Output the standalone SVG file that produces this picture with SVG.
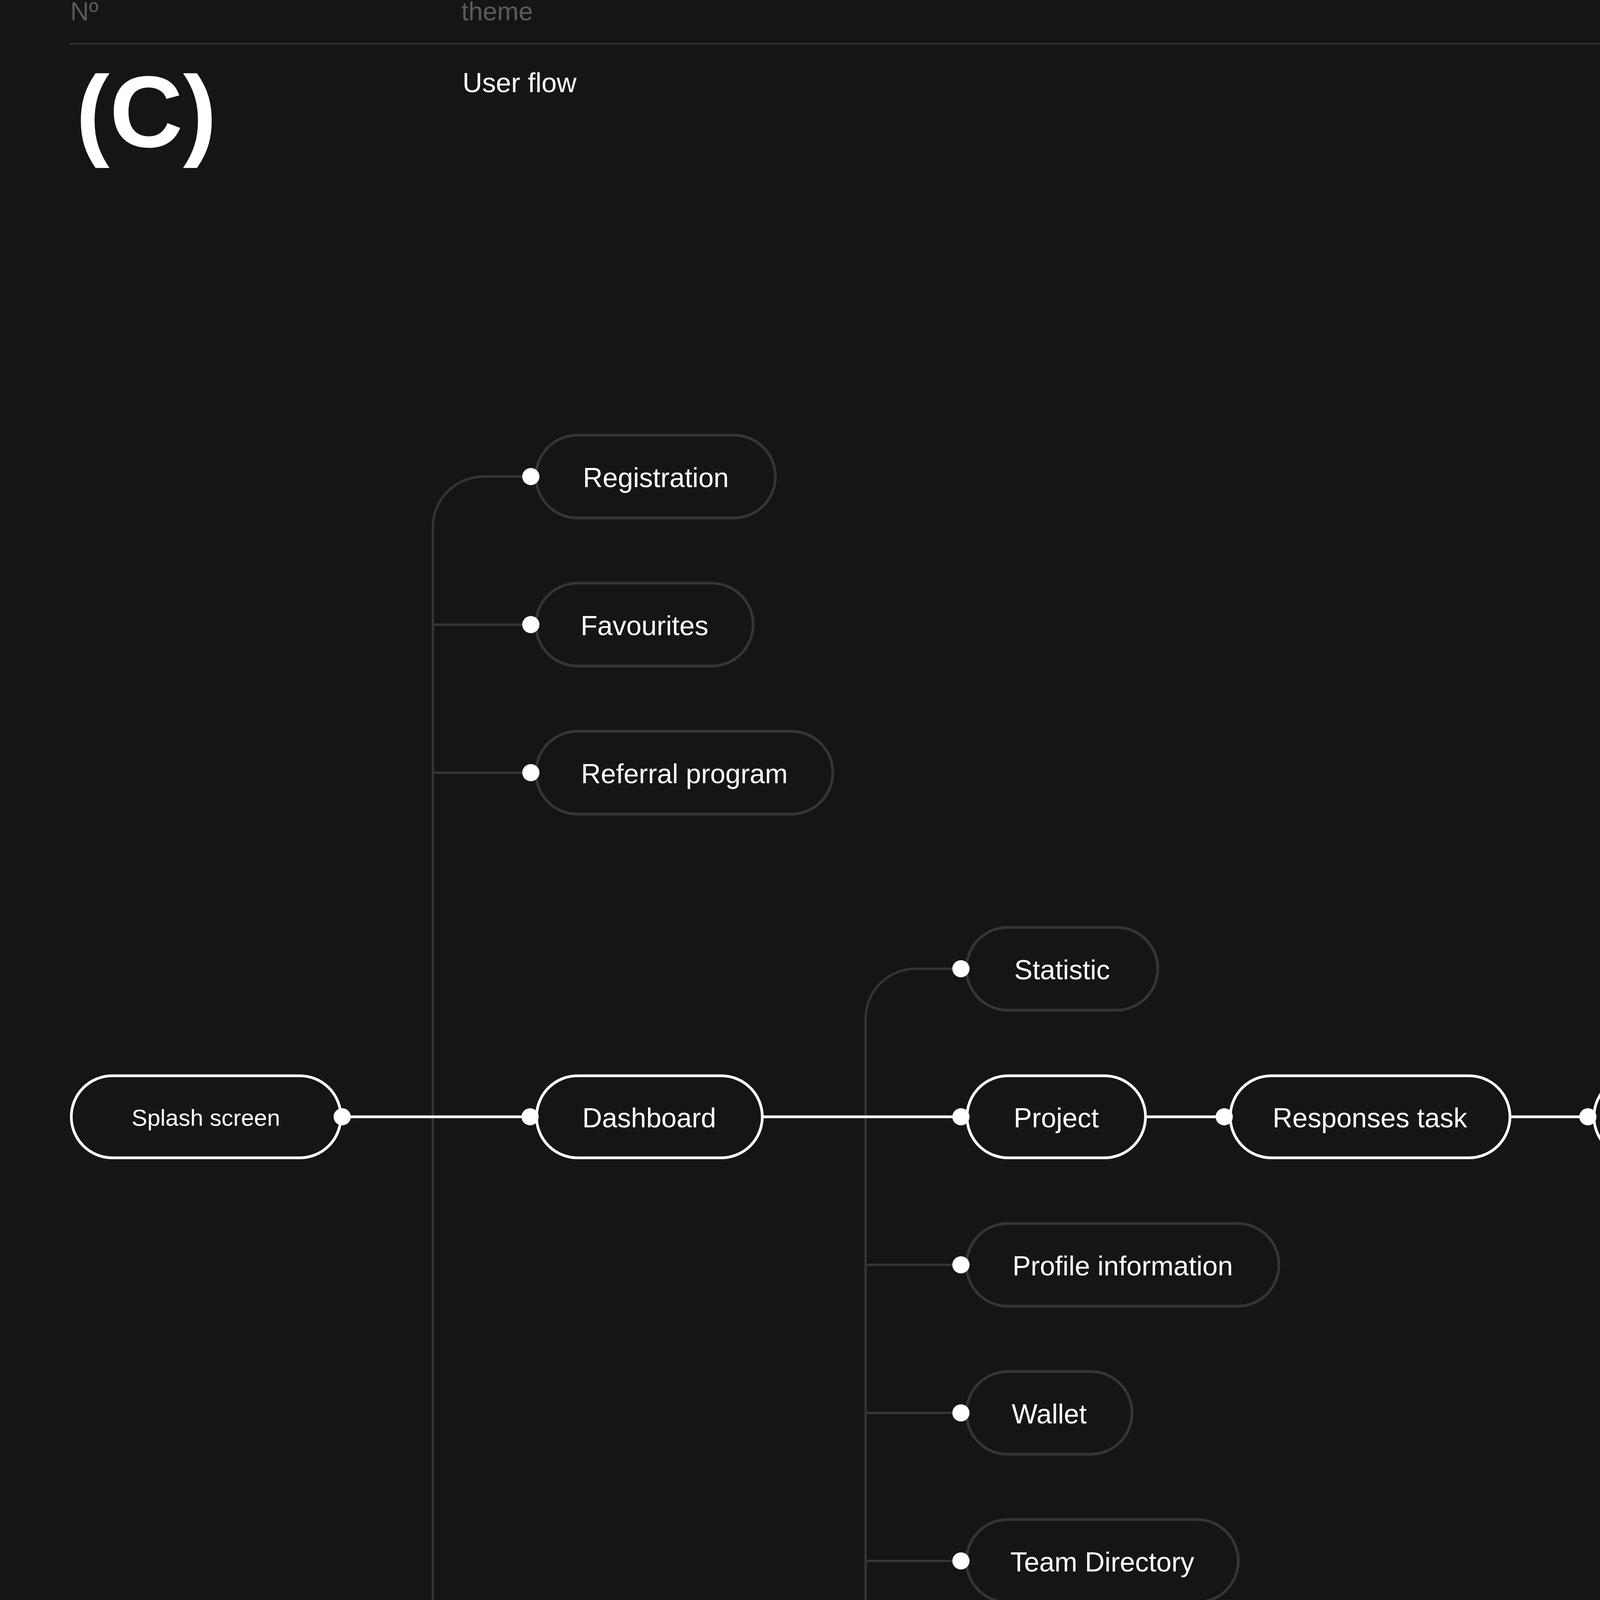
<svg xmlns="http://www.w3.org/2000/svg" width="6400" height="6858" viewBox="0 0 6400 6858">
<style>
.bg{fill:#151515}
.hdr{font-family:"Liberation Sans",Arial,sans-serif;font-size:66px;fill:#5a5a5a}
.body{font-family:"Liberation Sans",Arial,sans-serif;font-size:70px;fill:#ffffff}
.pillG{fill:#151515;stroke:#353535;stroke-width:7}
.pillD{fill:#151515;stroke:#242424;stroke-width:7}
.pillW{fill:#151515;stroke:#ffffff;stroke-width:7}
.lbl{font-family:"Liberation Sans",Arial,sans-serif;font-size:70px;fill:#ffffff;text-anchor:middle}
.lblS{font-family:"Liberation Sans",Arial,sans-serif;font-size:60px;fill:#ffffff;text-anchor:middle}
.cG{fill:none;stroke:#353535;stroke-width:6}
.cW{fill:none;stroke:#ffffff;stroke-width:7}
.dot{fill:#ffffff}
</style>
<rect class="bg" x="0" y="0" width="6400" height="6858"/>
<g id="header">
<text class="hdr" x="180" y="52">Nº</text>
<text class="hdr" x="1181" y="52">theme</text>
<text class="hdr" x="4786" y="52">about</text>
<line x1="178" y1="112" x2="6222" y2="112" stroke="#333333" stroke-width="4"/>
<text x="194" y="376" font-family="'Liberation Sans',Arial,sans-serif" font-size="260" font-weight="bold" fill="#ffffff">(C)</text>
<text class="body" x="1184" y="236" font-size="72">User flow</text>
<text class="body" x="4787" y="241">For this application, the user flow is quite</text>
<text class="body" x="4787" y="339">extensive, which is why I will only highlight the</text>
<text class="body" x="4787" y="437">necessarysteps that I have taken in this case.</text>
</g>
<g id="connectors">
<path class="cG" d="M1358 1220 H1238 A130 130 0 0 0 1108 1350 V5902 A130 130 0 0 0 1238 6032 H1358"/>
<path class="cG" d="M1108 1599 H1358 M1108 1978 H1358 M1108 5274 H1358 M1108 5653 H1358"/>
<path class="cG" d="M2460 2480 H2344 A128 128 0 0 0 2216 2608 V4247 A128 128 0 0 0 2344 4375 H2460"/>
<path class="cG" d="M2216 3238 H2460 M2216 3617 H2460 M2216 3996 H2460"/>
<path class="cW" d="M876 2859 H1357 M1955 2859 H2460 M2936 2859 H3134 M3869 2859 H4065 M4555 2859 H4752 M5360 2859 H5556"/>
</g>
<g id="splash"><rect class="pillW" x="182.5" y="2754" width="690" height="210" rx="105"/><text class="lblS" x="527" y="2882">Splash screen</text><circle class="dot" cx="876" cy="2859" r="22"/></g>
<g id="dashboard"><rect class="pillW" x="1373.5" y="2754" width="578" height="210" rx="105"/><text class="lbl" x="1662" y="2886">Dashboard</text><circle class="dot" cx="1357" cy="2859" r="22"/></g>
<g id="project"><rect class="pillW" x="2475.5" y="2754" width="457" height="210" rx="105"/><text class="lbl" x="2704" y="2886">Project</text><circle class="dot" cx="2460" cy="2859" r="22"/></g>
<g id="responses"><rect class="pillW" x="3149.5" y="2754" width="716" height="210" rx="105"/><text class="lbl" x="3507" y="2886">Responses task</text><circle class="dot" cx="3134" cy="2859" r="22"/></g>
<g id="atwork"><rect class="pillW" x="4080.5" y="2754" width="471" height="210" rx="105"/><text class="lbl" x="4316" y="2886">At Work</text><circle class="dot" cx="4065" cy="2859" r="22"/></g>
<g id="completed"><rect class="pillW" x="4768.5" y="2754" width="588" height="210" rx="105"/><text class="lbl" x="5062" y="2886">Completed</text><circle class="dot" cx="4752" cy="2859" r="22"/></g>
<g id="grade"><rect class="pillW" x="5571.5" y="2754" width="428" height="210" rx="105"/><text class="lbl" x="5785" y="2886">Grade</text><circle class="dot" cx="5556" cy="2859" r="22"/></g>
<g id="registration"><rect class="pillG" x="1372" y="1114" width="613" height="212" rx="106"/><text class="lbl" x="1679" y="1247">Registration</text><circle class="dot" cx="1359" cy="1220" r="22"/></g>
<g id="favourites"><rect class="pillG" x="1372" y="1493" width="556" height="212" rx="106"/><text class="lbl" x="1650" y="1626">Favourites</text><circle class="dot" cx="1359" cy="1599" r="22"/></g>
<g id="referral"><rect class="pillG" x="1372" y="1872" width="760" height="212" rx="106"/><text class="lbl" x="1752" y="2005">Referral program</text><circle class="dot" cx="1359" cy="1978" r="22"/></g>
<g id="statistic"><rect class="pillG" x="2474" y="2374" width="490" height="212" rx="106"/><text class="lbl" x="2719" y="2507">Statistic</text><circle class="dot" cx="2460" cy="2480" r="22"/></g>
<g id="profile"><rect class="pillG" x="2474" y="3132" width="800" height="212" rx="106"/><text class="lbl" x="2874" y="3265">Profile information</text><circle class="dot" cx="2460" cy="3238" r="22"/></g>
<g id="wallet"><rect class="pillG" x="2474" y="3511" width="424" height="212" rx="106"/><text class="lbl" x="2686" y="3644">Wallet</text><circle class="dot" cx="2460" cy="3617" r="22"/></g>
<g id="team"><rect class="pillG" x="2474" y="3890" width="696" height="212" rx="106"/><text class="lbl" x="2822" y="4023">Team Directory</text><circle class="dot" cx="2460" cy="3996" r="22"/></g>
<g id="projectcreation"><rect class="pillG" x="2474" y="4269" width="728" height="212" rx="106"/><text class="lbl" x="2838" y="4402">Project creation</text><circle class="dot" cx="2460" cy="4375" r="22"/></g>
<g id="notifications"><rect class="pillD" x="1372" y="5168" width="957" height="212" rx="106"/><text class="lbl" x="1850" y="5301">Notifications &amp; support</text><circle class="dot" cx="1359" cy="5274" r="22"/></g>
<g id="chat"><rect class="pillD" x="1372" y="5547" width="388" height="212" rx="106"/><text class="lbl" x="1566" y="5680">Chat</text><circle class="dot" cx="1359" cy="5653" r="22"/></g>
<g id="payments"><rect class="pillD" x="1372" y="5926" width="542" height="212" rx="106"/><text class="lbl" x="1643" y="6059">Payments</text><circle class="dot" cx="1359" cy="6032" r="22"/></g>
</svg>
